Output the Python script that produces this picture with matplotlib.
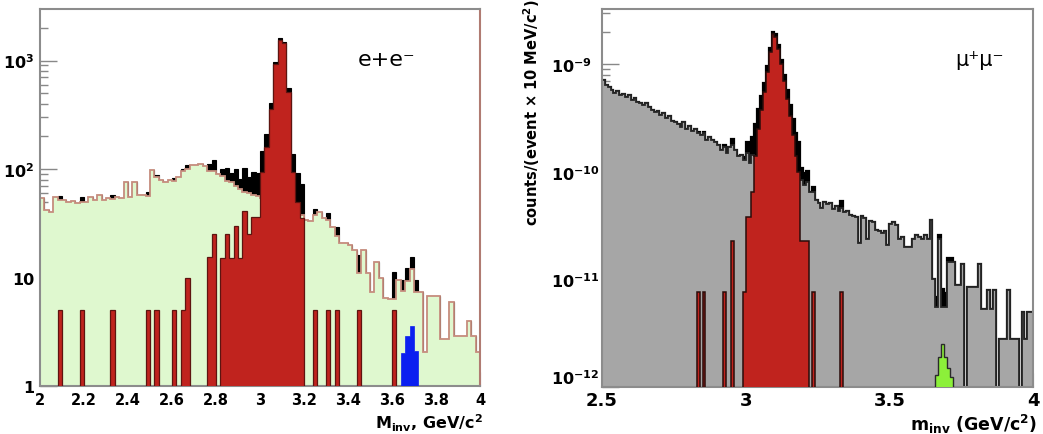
import numpy as np
import matplotlib
matplotlib.use('Agg')
import matplotlib.pyplot as plt
from matplotlib.ticker import FixedLocator, LogLocator, NullFormatter

plt.rcParams['font.family'] = ['DejaVu Sans']
plt.rcParams['mathtext.fontset'] = 'dejavusans'
plt.rcParams['mathtext.default'] = 'bf'

# ---- e+e- panel: 20 MeV bins from 2.0 to 4.0 GeV/c^2 ----
ee_edges = np.linspace(2.0, 4.0, 101)
ee_bkg = [
    54, 42, 40, 55, 52, 52, 50, 51, 49, 50,
    50, 55, 52, 58, 52, 54, 53, 55, 54, 76,
    55, 76, 58, 58, 56, 98, 84, 80, 76, 80,
    78, 84, 96, 100, 110, 110, 112, 106, 96, 95,
    90, 86, 78, 76, 70, 66, 62, 60, 58, 56,
    54, 52, 50, 48, 47, 46, 45, 44, 42, 38,
    34, 33, 38, 40, 35, 34, 29, 24, 21, 21,
    20, 18, 11, 18, 11, 7.4, 14, 10, 6.5, 6.3,
    6.3, 9.5, 7.5, 9.3, 12, 7.4, 7.4, 2.05, 6.8, 6.8,
    6.8, 2.7, 2.7, 6.0, 2.9, 2.9, 2.9, 4.0, 2.9, 2.05]
# J/psi signal (bin centre, counts)
ee_jpsi_m = [2.09, 2.19, 2.33, 2.49, 2.53, 2.61, 2.65, 2.67, 2.77, 2.79,
             2.83, 2.85, 2.87, 2.89, 2.91, 2.93, 2.95, 2.97, 2.99, 3.01,
             3.03, 3.05, 3.07, 3.09, 3.11, 3.13, 3.15, 3.17, 3.19,
             3.25, 3.31, 3.35, 3.45, 3.61]
ee_jpsi_n = [5, 5, 5, 5, 5, 5, 5, 10, 15.5, 25,
             15, 25, 15, 30, 15, 41, 25, 36, 36, 94,
             160, 360, 930, 1550, 1450, 510, 94, 50, 35,
             5, 5, 5, 5, 5]
# psi(2S) signal
ee_psi2_m = [3.65, 3.67, 3.69, 3.71]
ee_psi2_n = [2.0, 2.9, 3.6, 2.1]

# ---- mu+mu- panel: 10 MeV bins from 2.5 to 4.0 GeV/c^2 ----
mm_edges = np.linspace(2.5, 4.0, 151)
mm_bkg = [
    7.2e-10, 6.5e-10, 6.2e-10, 5.8e-10, 5.4e-10, 5.7e-10, 5.2e-10, 5.3e-10, 5.0e-10, 5.2e-10,
    4.7e-10, 4.9e-10, 4.5e-10, 4.4e-10, 4.2e-10, 4.4e-10, 4.0e-10, 3.8e-10, 3.6e-10, 3.7e-10,
    3.4e-10, 3.5e-10, 3.2e-10, 3.3e-10, 3.0e-10, 2.9e-10, 2.8e-10, 2.6e-10, 2.9e-10, 2.5e-10,
    2.7e-10, 2.4e-10, 2.5e-10, 2.3e-10, 2.2e-10, 2.3e-10, 2.0e-10, 2.1e-10, 2.0e-10, 1.9e-10,
    1.8e-10, 1.6e-10, 1.7e-10, 1.5e-10, 1.7e-10, 1.8e-10, 1.6e-10, 1.4e-10, 1.45e-10, 1.3e-10,
    1.5e-10, 1.2e-10, 1.45e-10, 1.4e-10, 1.35e-10, 1.3e-10, 1.25e-10, 1.2e-10, 1.15e-10, 1.1e-10,
    1.1e-10, 1.05e-10, 1.0e-10, 1.0e-10, 9.5e-11, 9.2e-11, 9.0e-11, 8.8e-11, 9.0e-11, 8.5e-11,
    7.5e-11, 8.0e-11, 6.5e-11, 6.5e-11, 5.5e-11, 5.2e-11, 4.6e-11, 5.3e-11, 5.0e-11, 5.2e-11,
    4.5e-11, 4.8e-11, 4.3e-11, 4.6e-11, 4.2e-11, 4.3e-11, 4.0e-11, 3.9e-11, 3.8e-11, 2.2e-11,
    3.9e-11, 3.7e-11, 2.4e-11, 3.5e-11, 3.4e-11, 2.9e-11, 2.8e-11, 2.7e-11, 2.8e-11, 2.1e-11,
    3.3e-11, 3.4e-11, 3.2e-11, 2.4e-11, 2.5e-11, 2.0e-11, 2.0e-11, 2.0e-11, 2.4e-11, 2.6e-11,
    2.5e-11, 2.4e-11, 2.6e-11, 2.4e-11, 3.6e-11, 1.0e-11, 5.6e-12, 2.4e-11, 5.6e-12, 5.6e-12,
    1.45e-11, 1.45e-11, 1.45e-11, 8.8e-12, 8.8e-12, 1.4e-11, 0, 8.5e-12, 8.5e-12, 8.5e-12,
    8.5e-12, 1.4e-11, 5.3e-12, 5.3e-12, 8.0e-12, 5.3e-12, 8.0e-12, 0, 2.8e-12, 2.8e-12,
    2.8e-12, 8.0e-12, 2.8e-12, 2.8e-12, 2.8e-12, 0, 5.0e-12, 2.8e-12, 5.0e-12, 5.0e-12]
mm_jpsi_m = [2.835, 2.855, 2.925, 2.955, 2.995, 3.005, 3.015, 3.025, 3.035, 3.045,
             3.055, 3.065, 3.075, 3.085, 3.095, 3.105, 3.115, 3.125, 3.135, 3.145,
             3.155, 3.165, 3.175, 3.185, 3.195, 3.205, 3.215, 3.235, 3.335]
mm_jpsi_n = [7.6e-12, 7.6e-12, 7.6e-12, 2.3e-11, 7.6e-12, 3.8e-11, 3.8e-11, 6.5e-11, 1.4e-10, 2.5e-10,
             3.8e-10, 5.5e-10, 8.5e-10, 1.3e-9, 1.9e-9, 1.8e-9, 1.4e-9, 1.0e-9, 7.0e-10, 4.8e-10,
             3.3e-10, 2.2e-10, 1.4e-10, 1.0e-10, 2.3e-11, 2.3e-11, 2.3e-11, 7.6e-12, 7.6e-12]
mm_psi2_m = [3.665, 3.675, 3.685, 3.695, 3.705, 3.715]
mm_psi2_n = [1.3e-12, 1.9e-12, 2.5e-12, 1.9e-12, 1.5e-12, 1.25e-12]


def binned(masses, counts, edges):
    return np.histogram(masses, bins=edges, weights=counts)[0]


W, H = 1043, 435
fig = plt.figure(figsize=(W / 100, H / 100), dpi=100)
ax1 = fig.add_axes([40 / W, 48 / H, 440 / W, 377 / H])
ax2 = fig.add_axes([602 / W, 47 / H, 431 / W, 378 / H])

# left panel
ee_b = np.array(ee_bkg, dtype=float)
ee_s = binned(ee_jpsi_m, ee_jpsi_n, ee_edges)
ee_p = binned(ee_psi2_m, ee_psi2_n, ee_edges)
ee_tot = ee_b + ee_s + ee_p
ax1.set_yscale('log')
ax1.stairs(ee_tot, ee_edges, baseline=1, fill=True, facecolor='black', edgecolor='black',
           linewidth=0.8, zorder=1)
ax1.stairs(ee_b, ee_edges, baseline=1, fill=True, facecolor='#dff8cf', linewidth=0, zorder=2)
ax1.stairs(ee_b, ee_edges, baseline=1, color='#c68d7e', linewidth=1.3, zorder=2.2)
ax1.stairs(ee_s, ee_edges, baseline=1, fill=True, facecolor='#c0231e', edgecolor='#5e1410',
           linewidth=0.9, zorder=3)
ax1.stairs(ee_p, ee_edges, baseline=1, fill=True, facecolor='#0b1ff0', edgecolor='#0b1ff0',
           linewidth=0.5, zorder=4)
ax1.set_xlim(2, 4)
ax1.set_ylim(1, 2985)
ax1.xaxis.set_major_locator(FixedLocator([2, 2.2, 2.4, 2.6, 2.8, 3, 3.2, 3.4, 3.6, 3.8, 4]))
ax1.set_xticklabels(['2', '2.2', '2.4', '2.6', '2.8', '3', '3.2', '3.4', '3.6', '3.8', '4'],
                    fontsize=10.5, fontweight='bold')
ax1.yaxis.set_major_locator(FixedLocator([1, 10, 100, 1000]))
ax1.yaxis.set_minor_locator(LogLocator(base=10, subs=np.arange(2, 10), numticks=20))
ax1.yaxis.set_minor_formatter(NullFormatter())
ax1.set_yticklabels(['1', '10', r'$10^{2}$', r'$10^{3}$'], fontsize=11.5, fontweight='bold')
ax1.tick_params(axis='y', which='major', direction='in', length=12, width=1, color='#888888', pad=4)
ax1.tick_params(axis='y', which='minor', direction='in', length=6, width=1, color='#888888')
ax1.tick_params(axis='x', which='major', direction='in', length=10, color='#888888', pad=4)
ax1.set_axisbelow(True)
for s in ax1.spines.values():
    s.set_color('#8c8c8c')
    s.set_linewidth(1.5)
ax1.spines['right'].set_color('#b07b72')
fig.text(483 / W, 1 - 423 / H, r'M$_{\mathbf{inv}}$, GeV/c$^{2}$', ha='right', va='center',
         fontsize=11.5, fontweight='bold')
fig.text(358 / W, 1 - 60 / H, 'e+e\u207b', ha='left', va='center', fontsize=16)

# right panel
mm_b = np.array(mm_bkg, dtype=float)
mm_s = binned(mm_jpsi_m, mm_jpsi_n, mm_edges)
mm_p = binned(mm_psi2_m, mm_psi2_n, mm_edges)
mm_tot = mm_b + mm_s + mm_p
ax2.set_yscale('log', nonpositive='clip')
ax2.stairs(mm_tot, mm_edges, baseline=1e-12, fill=True, facecolor='black', edgecolor='black',
           linewidth=1.6, zorder=1)
ax2.stairs(mm_b, mm_edges, baseline=1e-12, fill=True, facecolor='#a6a6a6', linewidth=0, zorder=2)
ax2.stairs(mm_b, mm_edges, baseline=1e-12, color='#262626', linewidth=1.3, zorder=2.2)
ax2.stairs(mm_s, mm_edges, baseline=1e-12, fill=True, facecolor='#c0231e', edgecolor='#2a0c0a',
           linewidth=1.1, zorder=3)
ax2.stairs(mm_p, mm_edges, baseline=1e-12, fill=True, facecolor='#8cf03a', edgecolor='#2a2a2a',
           linewidth=1.0, zorder=4)
ax2.set_xlim(2.5, 4.0)
ax2.set_ylim(1e-12, 3.28e-9)
ax2.xaxis.set_major_locator(FixedLocator([2.5, 3, 3.5, 4]))
ax2.set_xticklabels(['2.5', '3', '3.5', '4'], fontsize=13, fontweight='bold')
ax2.yaxis.set_major_locator(FixedLocator([1e-12, 1e-11, 1e-10, 1e-9]))
ax2.yaxis.set_minor_locator(LogLocator(base=10, subs=np.arange(2, 10), numticks=20))
ax2.yaxis.set_minor_formatter(NullFormatter())
ax2.set_yticklabels([r'$10^{-12}$', r'$10^{-11}$', r'$10^{-10}$', r'$10^{-9}$'], fontsize=11.5,
                    fontweight='bold')
for lab in ax2.get_yticklabels():
    lab.set_horizontalalignment('left')
ax2.get_yticklabels()[0].set_verticalalignment('bottom')
ax2.tick_params(axis='y', which='major', direction='in', length=12, width=1, color='#888888', pad=37)
ax2.tick_params(axis='y', which='minor', direction='in', length=6, width=1, color='#888888')
ax2.tick_params(axis='x', which='major', direction='in', length=10, color='#888888', pad=3)
ax2.set_axisbelow(True)
for s in ax2.spines.values():
    s.set_color('#8c8c8c')
    s.set_linewidth(1.5)
fig.text(1037 / W, 1 - 424 / H, r'm$_{\mathbf{inv}}$ (GeV/c$^{2}$)', ha='right', va='center',
         fontsize=12.5, fontweight='bold')
fig.text(532 / W, 1 - 113 / H, r'counts/(event $\times$ 10 MeV/c$^{2}$)', rotation=90,
         ha='center', va='center', fontsize=10.5, fontweight='bold')
fig.text(955 / W, 1 - 60 / H, '\u03bc\u207a\u03bc\u207b', ha='left', va='center', fontsize=15)

fig.savefig('out.png', dpi=100)
